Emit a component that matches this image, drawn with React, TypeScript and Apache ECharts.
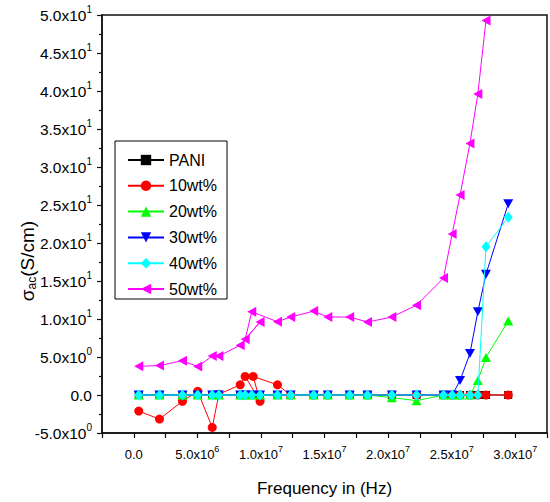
import React, { useEffect, useRef } from 'react';
import * as echarts from 'echarts';

const FONT = '"Liberation Sans", Arial, Helvetica, sans-serif';

const seriesNames = ['PANI', '10wt%', '20wt%', '30wt%', '40wt%', '50wt%'];
const seriesColors = ['#000000', '#ff0000', '#00ff00', '#0000ff', '#00ffff', '#ff00ff'];

// Frequencies in units of 1e6 Hz
const freqCommon = [0.39, 2.02, 3.83, 5.03, 6.17, 6.69, 8.37, 8.76, 9.28, 9.93, 11.3, 12.34, 14.15, 15.26, 16.98, 18.38, 20.3, 22.24, 24.36, 25.04, 25.66, 26.44, 27.06, 27.7, 29.45];
const freq10 = [0.39, 2.02, 3.83, 5.03, 6.17, 6.69, 8.37, 8.76, 9.93, 9.39, 11.3, 12.34, 14.15, 15.26, 16.98, 18.38, 20.3, 22.24, 24.36, 25.04, 25.66, 26.44, 27.06, 27.7, 29.45];
const freq50 = [0.39, 2.02, 3.83, 5.03, 6.17, 6.69, 8.37, 9.93, 8.76, 9.28, 11.3, 12.34, 14.15, 15.26, 16.98, 18.38, 20.3, 22.24, 24.36, 25.04, 25.66, 26.44, 27.06, 27.7];

// sigma_ac values (S/cm)
const valPANI = [0, 0, 0, 0, 0, 0, 0, 0, 0, 0, 0, 0, 0, 0, 0, 0, 0, 0, 0, 0, 0, 0, 0, 0, 0];
const val10 = [-2.12, -3.17, -0.82, 0.48, -4.26, 0.1, 1.34, 2.44, -0.82, 2.44, 1.34, 0, 0, 0, 0, 0, 0, 0, 0, 0, 0, 0, 0, 0, 0];
const val20 = [0, 0, 0, 0, 0, 0, 0, 0, 0, 0, 0, 0, 0, 0, 0, 0, -0.35, -0.75, 0, 0, 0, 0, 1.9, 4.95, 9.74];
const val30 = [0, 0, 0, 0, 0, 0, 0, 0, 0, 0, 0, 0, 0, 0, 0, 0, 0, 0, 0, 0, 1.9, 5.47, 10.95, 15.9, 25.16];
const val40 = [0, 0, 0, 0, 0, 0, 0, 0, 0, 0, 0, 0, 0, 0, 0, 0, 0, 0, 0, 0, 0, 0, 0, 19.5, 23.4];
const val50 = [3.78, 3.87, 4.52, 3.74, 5.12, 5.12, 6.56, 9.6, 7.34, 10.95, 9.65, 10.26, 11.04, 10.26, 10.26, 9.6, 10.26, 11.82, 15.38, 21.2, 26.3, 33.1, 39.6, 49.27];

const seriesFreqs = [freqCommon, freq10, freqCommon, freqCommon, freqCommon, freq50];
const seriesVals = [valPANI, val10, val20, val30, val40, val50];
const seriesSymbols = [
  'rect',
  'circle',
  'triangle',
  'path://M0,0 L10,0 L5,9 Z',
  'diamond',
  'path://M9,0 L0,5 L9,10 Z',
];
const seriesSymbolSizes: any[] = [8, 9, [10, 9], [10, 9], [9, 11], [9, 10]];

const xTicks = { min: -2.5e6, max: 3.25e7, interval: 2.5e6 };
const yTicks = { min: -5, max: 50, interval: 5 };

function sci(v: number): string {
  if (Math.abs(v) < 1e-12) return '{b|0.0}';
  const e = Math.floor(Math.log10(Math.abs(v)) + 1e-9);
  const m = (v / Math.pow(10, e)).toFixed(1);
  return `{b|${m}x10}{s|${e}}`;
}

const xLabelRich = {
  b: { fontSize: 13, fontFamily: FONT, color: '#000', lineHeight: 20 },
  s: { fontSize: 9, fontFamily: FONT, color: '#000', lineHeight: 10, verticalAlign: 'top' },
};
const yLabelRich = {
  b: { fontSize: 15.5, fontFamily: FONT, color: '#000', lineHeight: 22 },
  s: { fontSize: 10, fontFamily: FONT, color: '#000', lineHeight: 10, verticalAlign: 'top' },
};

export default function App() {
  const ref = useRef<HTMLDivElement>(null);

  useEffect(() => {
    if (!ref.current) return;
    const chart = echarts.init(ref.current, null, { renderer: 'svg' });

    const series = seriesNames.map((name, i) => ({
      name,
      type: 'line',
      data: seriesFreqs[i].map((f, j) => [f * 1e6, seriesVals[i][j]]),
      symbol: seriesSymbols[i],
      symbolSize: seriesSymbolSizes[i],
      showSymbol: true,
      color: seriesColors[i],
      itemStyle: { color: seriesColors[i] },
      lineStyle: { color: seriesColors[i], width: 1 },
      z: 2 + i,
    }));

    chart.setOption({
      animation: false,
      backgroundColor: '#fff',
      grid: {
        left: 102,
        right: -2,
        top: 15,
        bottom: 65,
        show: true,
        borderColor: '#111',
        borderWidth: 1.5,
        backgroundColor: 'transparent',
      },
      legend: {
        orient: 'vertical',
        left: 115,
        top: 141,
        itemWidth: 36,
        itemHeight: 13,
        itemGap: 9.8,
        padding: [11, 10, 2, 12],
        borderColor: '#000',
        borderWidth: 1,
        backgroundColor: '#fff',
        textStyle: { fontSize: 16, fontFamily: FONT, color: '#000', lineHeight: 16 },
        data: seriesNames,
      },
      xAxis: {
        type: 'value',
        min: xTicks.min,
        max: xTicks.max,
        interval: xTicks.interval,
        name: 'Frequency in (Hz)',
        nameLocation: 'middle',
        nameGap: 47,
        nameTextStyle: { fontSize: 17, fontFamily: FONT, color: '#000' },
        axisLine: { show: true, onZero: false, lineStyle: { color: '#111', width: 1.5 } },
        axisTick: { show: true, inside: false, length: 5, lineStyle: { color: '#111', width: 1.2 } },
        splitLine: { show: false },
        axisLabel: {
          margin: 11,
          color: '#000',
          rich: xLabelRich,
          showMinLabel: true,
          showMaxLabel: true,
          formatter: (v: number) => {
            if (v < 0) return '';
            if (Math.abs(v / 5e6 - Math.round(v / 5e6)) > 1e-6) return '';
            return sci(v);
          },
        },
      },
      yAxis: {
        type: 'value',
        min: yTicks.min,
        max: yTicks.max,
        interval: yTicks.interval,
        axisLine: { show: true, onZero: false, lineStyle: { color: '#111', width: 1.5 } },
        axisTick: { show: true, inside: false, length: 5, lineStyle: { color: '#111', width: 1.2 } },
        minorTick: { show: true, splitNumber: 2, length: 3, lineStyle: { color: '#111', width: 1.2 } },
        splitLine: { show: false },
        minorSplitLine: { show: false },
        axisLabel: {
          margin: 10,
          color: '#000',
          rich: yLabelRich,
          showMinLabel: true,
          showMaxLabel: true,
          formatter: (v: number) => sci(v),
        },
      },
      graphic: [
        {
          type: 'text',
          x: 27,
          y: 261,
          rotation: Math.PI / 2,
          style: {
            text: '{a|σ}{c|ac}{a|(S/cm)}',
            align: 'center',
            verticalAlign: 'middle',
            fill: '#000',
            rich: {
              a: { fontSize: 19, fontFamily: FONT, fill: '#000', lineHeight: 22 },
              c: { fontSize: 12, fontFamily: FONT, fill: '#000', lineHeight: 12, verticalAlign: 'bottom' },
            },
          },
        },
      ],
      series,
    });

    return () => chart.dispose();
  }, []);

  return <div ref={ref} style={{ width: 550, height: 502, position: 'absolute', left: 0, top: 0 }} />;
}
